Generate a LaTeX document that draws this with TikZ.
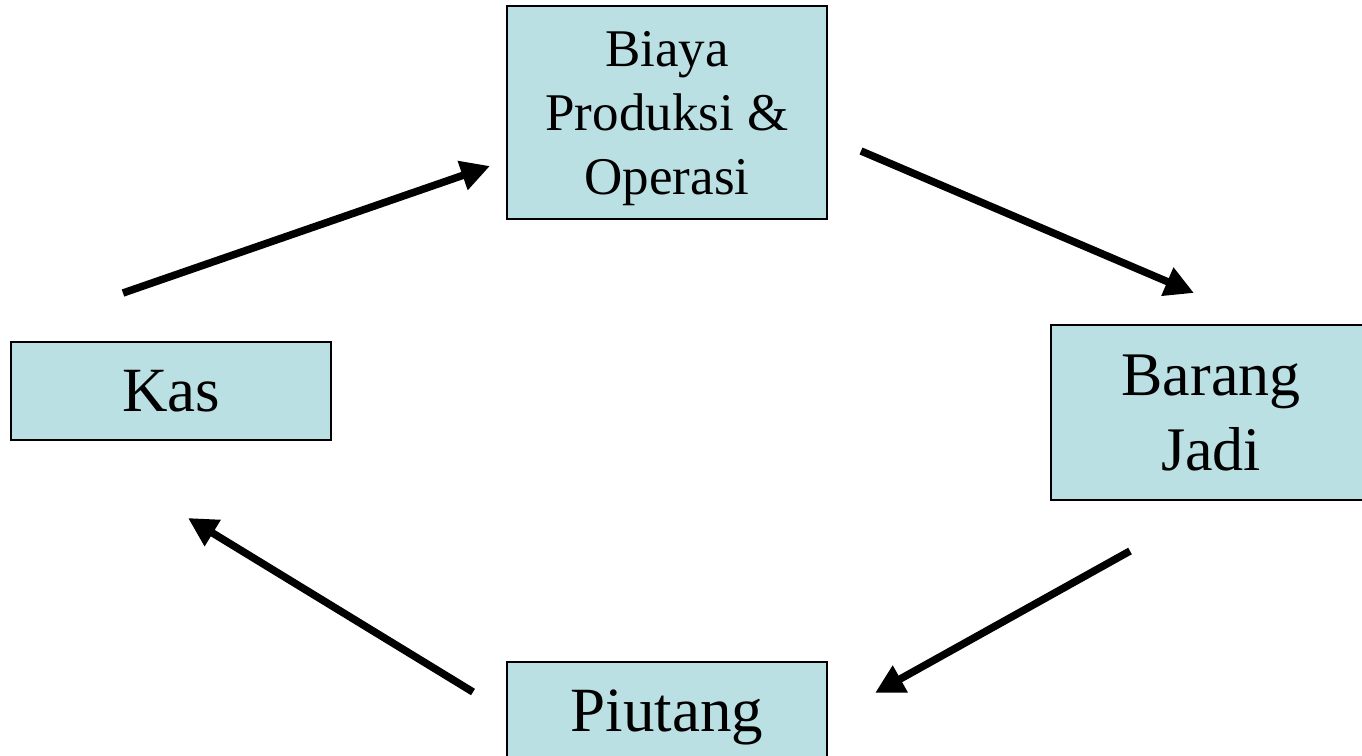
\documentclass[tikz,border=0pt]{standalone}
\usepackage{fontspec}
\setmainfont{Liberation Serif}
\usepackage{xcolor}
\usepackage{tikz}
\usetikzlibrary{arrows.meta}

\definecolor{boxblue}{HTML}{BBE0E3}

\begin{document}
\begin{tikzpicture}[x=1pt,y=-1pt,
	akun/.style={draw=black,line width=2pt,fill=boxblue,align=center,inner sep=0pt,text depth=0pt},
	flow/.style={line width=7.5pt,-{Triangle[length=29pt,width=29pt]}}]
	\useasboundingbox (0,0) rectangle (1362,755);
	
	\node[akun,minimum width=320pt,minimum height=98pt,font=\fontsize{63}{76}\selectfont] (kas) at (171,391) {Kas};
	\node[akun,minimum width=320pt,minimum height=213pt,font=\fontsize{53}{64}\selectfont] (biaya) at (667,112.5) {Biaya\\Produksi \&\\Operasi};
	\node[akun,minimum width=320pt,minimum height=175pt,font=\fontsize{62}{75}\selectfont] (barang) at (1211,412.5) {Barang\\Jadi};
	\node[akun,minimum width=320pt,minimum height=98pt,font=\fontsize{63}{76}\selectfont] (piutang) at (667,711) {Piutang};
	
	% ujung panah
	\coordinate (kasout) at (123,293);
	\coordinate (biayain) at (490,166);
	\coordinate (biayaout) at (861,151);
	\coordinate (barangin) at (1194,293);
	\coordinate (barangout) at (1130,551);
	\coordinate (piutangin) at (875,693);
	\coordinate (piutangout) at (473,692);
	\coordinate (kasin) at (188,518);
	
	\draw[flow] (kasout) -- (biayain);
	\draw[flow] (biayaout) -- (barangin);
	\draw[flow] (barangout) -- (piutangin);
	\draw[flow] (piutangout) -- (kasin);
\end{tikzpicture}
\end{document}
